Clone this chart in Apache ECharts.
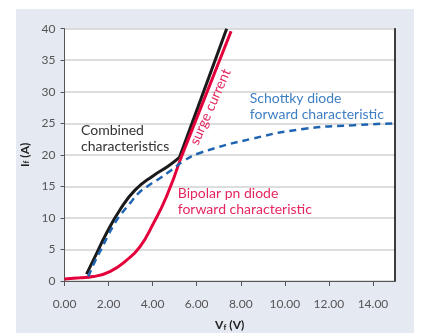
<!DOCTYPE html>
<html><head><meta charset="utf-8">
<script src="https://cdn.jsdelivr.net/npm/echarts@6/dist/echarts.min.js"></script>
<style>html,body{margin:0;padding:0;background:#fff;}#c{width:427px;height:333px;}</style>
</head><body><div id="c"></div>
<script>
var xTicks = [0, 2, 4, 6, 8, 10, 12, 14];
var yTicks = [0, 5, 10, 15, 20, 25, 30, 35, 40];
var combinedCurve = [[1.0,1.1],[1.31,3.3],[1.91,7.6],[2.52,11.3],[3.2,14.4],[4.03,16.7],[4.7,18.2],[5.22,19.6]];
var combinedSurge = [[5.22,19.6],[7.36,40.0]];
var bipolarCurve = [[0,0.3],[0.7,0.5],[1.3,0.7],[2.06,1.5],[2.82,3.3],[3.42,5.4],[4.03,9.1],[4.63,13.4],[5.25,19.2]];
var bipolarSurge = [[5.25,19.2],[7.56,39.6]];
var schottky = [[1.08,0.7],[1.38,3.1],[1.69,5.2],[1.99,7.3],[2.29,9.2],[2.59,10.7],[2.97,12.3],[3.35,13.9],[3.80,15.1],[4.33,16.3],[4.86,17.6],[5.4,19.0],[6.14,20.3],[8.56,22.6],[10.83,24.1],[13.1,24.7],[15,25]];
var notes = [
  {text:'Combined\ncharacteristics', at:[0.75,22.6], color:'#333333', rot:0},
  {text:'Schottky diode\nforward characteristic', at:[8.41,27.7], color:'#3f7fc3', rot:0},
  {text:'Bipolar pn diode\nforward characteristic', at:[5.14,12.6], color:'#e5265e', rot:0},
  {text:'surge current', at:[6.62,27.6], color:'#e5265e', rot:66, center:true}
];
var FONT = 'Lato, "Open Sans", sans-serif';
var chart = echarts.init(document.getElementById('c'), null, {renderer:'canvas'});
var RED = '#e4003a', BLK = '#1a1a1a', BLUE = '#1f64b1';
function line(data, color, smooth, dashed, w) {
  return {type:'line', data:data, smooth:smooth, symbol:'none', clip:true,
    lineStyle:{color:color, width:w, type: dashed ? [7,5] : 'solid', cap:'butt'}, z: dashed?3:2};
}
var nameRich = {v:{fontFamily:FONT,fontSize:12,fontWeight:'bold',color:'#222'},s:{fontFamily:FONT,fontSize:8,fontWeight:'bold',color:'#222',verticalAlign:'bottom'}};
chart.setOption({
  animation:false,
  backgroundColor:'#ffffff',
  graphic:[{type:'rect', shape:{x:16,y:9,width:398,height:330}, style:{fill:'#e5e9f1'}, z:-10, silent:true},
           {type:'rect', shape:{x:64.5,y:28.7,width:330.5,height:252.3}, style:{fill:'#ffffff'}, z:-9, silent:true}],
  grid:{left:64.5, right:32, top:28.7, bottom:52, containLabel:false, outerBoundsMode:'none'},
  xAxis:{type:'value', min:0, max:15, interval:2,
    name:'{v|V}{s|f}{v| (V)}', nameLocation:'middle', nameGap:38,
    nameTextStyle:{rich:nameRich},
    axisLine:{show:true, onZero:false, lineStyle:{color:'#555',width:1}},
    axisTick:{show:true, length:5, lineStyle:{color:'#555'}},
    axisLabel:{fontFamily:FONT, fontSize:12, color:'#555', margin:17, showMaxLabel:false,
      formatter:function(v){return xTicks.indexOf(v)>=0 ? v.toFixed(2) : '';}},
    splitLine:{show:false}},
  yAxis:[{type:'value', min:0, max:40, interval:5,
    name:'{v|I}{s|f}{v| (A)}', nameLocation:'middle', nameGap:14, nameRotate:90,
    nameTextStyle:{rich:nameRich},
    axisLine:{show:true, lineStyle:{color:'#555',width:1}},
    axisTick:{show:true, length:4, lineStyle:{color:'#555'}},
    axisLabel:{fontFamily:FONT, fontSize:12, color:'#555', margin:9,
      formatter:function(v){return yTicks.indexOf(v)>=0 ? String(v) : '';}},
    splitLine:{show:true, lineStyle:{color:'#d2d2d2', width:1.5}}},
   {type:'value', min:0, max:40, position:'right',
    axisLine:{show:true, lineStyle:{color:'#000',width:1.5}},
    axisTick:{show:false}, axisLabel:{show:false}, splitLine:{show:false}}],
  series:[
    line(schottky, BLUE, 0.5, true, 2.5),
    line(combinedCurve, BLK, 0.5, false, 3),
    line(combinedSurge, BLK, false, false, 3),
    line(bipolarCurve, RED, 0.5, false, 3),
    line(bipolarSurge, RED, false, false, 3)
  ]
});
var extra = notes.map(function(n, i){
  var p = chart.convertToPixel({gridIndex:0}, n.at);
  return {id:'note'+i, type:'text', x:p[0], y:p[1], rotation:n.rot*Math.PI/180, silent:true, z:10,
    style:{text:n.text, fill:n.color, font:'14px ' + FONT, lineHeight:16,
      align: n.center ? 'center' : 'left', verticalAlign:'middle'}};
});
chart.setOption({graphic: extra});
</script></body></html>
